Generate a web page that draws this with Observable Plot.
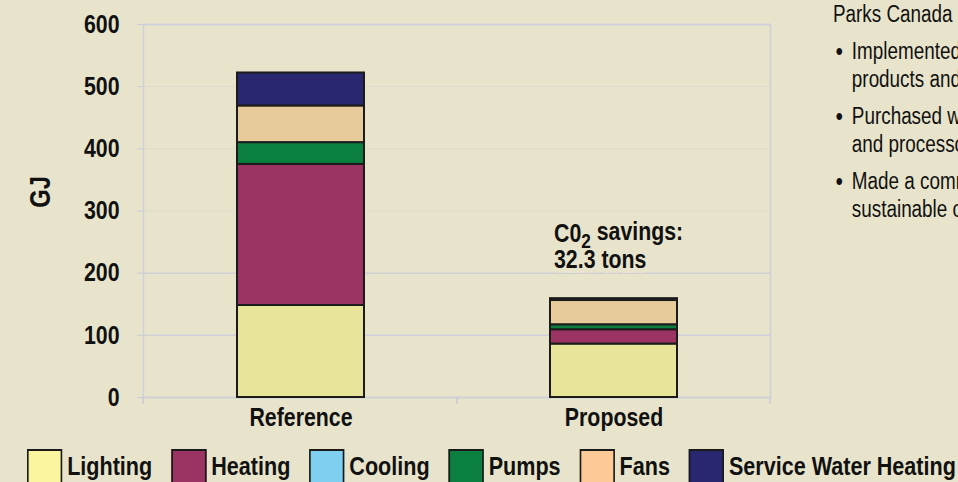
<!DOCTYPE html>
<html>
<head>
<meta charset="utf-8">
<script src="https://cdn.jsdelivr.net/npm/d3@7"></script>
<script src="https://cdn.jsdelivr.net/npm/@observablehq/plot@0.6"></script>
<style>
  html, body { margin: 0; padding: 0; }
  body {
    width: 958px; height: 482px; overflow: hidden; position: relative;
    background: #e8e4cb;
    font-family: "Liberation Sans", Arial, sans-serif;
    color: #111;
  }
  #chart { position: absolute; left: 0; top: 0; }
  #legend {
    position: absolute; left: 27px; top: 449px;
    display: flex; align-items: flex-start; white-space: nowrap;
    font-weight: bold; font-size: 26.3px;
    transform: scaleX(0.82); transform-origin: 0 0;
  }
  .item { display: flex; align-items: flex-start; margin-right: 23px; }
  .sw { width: 39px; height: 38px; border: 2px solid #1a1a1a; margin-right: 6px; box-sizing: content-box; }
  .lab { line-height: 30px; margin-top: 2px; }
  #notes {
    position: absolute; left: 833px; top: 0px; white-space: nowrap;
    font-size: 23px; line-height: 28px;
    transform: scaleX(0.82); transform-origin: 0 0;
  }
  #notes ul { list-style: none; margin: 0; padding: 0; }
  #notes li { position: relative; padding-left: 23px; margin-top: 9px; }
  #notes li::before { content: "\2022"; position: absolute; left: 3px; top: 0; font-size: 26px; }
</style>
</head>
<body>
<div id="chart"></div>
<div id="legend"></div>
<div id="notes"></div>
<script>
const scenarios = ["Reference", "Proposed"];
const endUses = ["Lighting", "Heating", "Cooling", "Pumps", "Fans", "Service Water Heating"];
const referenceValues = [148, 227, 0, 35, 59, 53];
const proposedValues = [86, 23, 0, 8, 39, 3];
const barColors = ["#e8e59b", "#9b3363", "#7fd0f0", "#0b7f40", "#e8cb9b", "#28276f"];
const legendColors = ["#fbf59f", "#9b3363", "#7fd0f0", "#0b7f40", "#fdc997", "#28276f"];
const yTicks = [0, 100, 200, 300, 400, 500, 600];
const yLabel = "GJ";
const annotationLines = ["C0 savings:", "32.3 tons"];
const noteTitle = "Parks Canada also:";
const noteBullets = [
  ["Implemented green procurement of", "products and services"],
  ["Purchased wood from certified forests", "and processors"],
  ["Made a commitment to", "sustainable operations"]
];

const rows = [];
endUses.forEach((u, i) => {
  rows.push({scenario: "Reference", use: u, value: referenceValues[i]});
  rows.push({scenario: "Proposed", use: u, value: proposedValues[i]});
});
const proposedTotal = d3.sum(proposedValues);

const bg = "#e8e4cb";
const font = '"Liberation Sans", Arial, sans-serif';
const squeeze = 0.82;

const annotOpts = {
  x: () => "Proposed", y: () => proposedTotal,
  text: d => d, textAnchor: "start", lineAnchor: "bottom",
  dx: -60, dy: -29, lineHeight: 1.08,
  fontSize: 26, fontWeight: "bold"
};

const plot = Plot.plot({
  width: 958,
  height: 440,
  marginLeft: 143,
  marginRight: 188,
  marginTop: 24,
  marginBottom: 43,
  style: {background: "transparent", fontFamily: font, fontSize: "26px", fontWeight: "bold", color: "#111"},
  x: {domain: scenarios, paddingInner: 0.595, paddingOuter: 0.2975, label: null},
  y: {domain: [0, 600], label: null},
  color: {domain: endUses, range: barColors},
  marks: [
    Plot.ruleY([300, 400, 500], {stroke: "#dcdacb", strokeWidth: 1}),
    Plot.ruleY([0, 100, 200, 600], {stroke: "#cfcfd5", strokeWidth: 1.5}),
    Plot.frame({stroke: "#cfcfd8", strokeWidth: 1.5}),
    Plot.axisY({ticks: yTicks, tickSize: 6, tickPadding: 18, stroke: "#c8cad8", fontSize: 26, fontWeight: "bold", fill: "#111"}),
    Plot.axisX({tickSize: 0, tickPadding: 10, fontSize: 26, fontWeight: "bold", fill: "#111"}),
    Plot.barY(rows, {x: "scenario", y: "value", fill: "use", order: endUses, stroke: "#1b1b1b", strokeWidth: 2}),
    Plot.text([annotationLines.join("\n")], {...annotOpts, fill: bg, stroke: bg, strokeWidth: 10, className: "annot"}),
    Plot.text([annotationLines.join("\n")], {...annotOpts, fill: "#111", className: "annot"})
  ]
});

const xs = plot.scale("x"), ys = plot.scale("y");
const svg = d3.select(plot);
const y0 = ys.apply(0);
const [xl, xr] = xs.range;
const mid = (xs.apply("Reference") + xs.bandwidth + xs.apply("Proposed")) / 2;
[xl, mid, xr].forEach(x => {
  svg.append("line").attr("x1", x).attr("x2", x).attr("y1", y0).attr("y2", y0 + 7)
    .attr("stroke", "#c8cad8").attr("stroke-width", 1.5);
});

// subscript 2 in CO2 annotation
svg.selectAll(".annot tspan").each(function() {
  if (this.textContent === annotationLines[0]) {
    const t = d3.select(this);
    t.text(null);
    t.append("tspan").text("C0");
    t.append("tspan").attr("dy", "0.3em").attr("font-size", 21).text("2");
    t.append("tspan").attr("dy", "-0.3em").text(" savings:");
  }
});

// GJ label
svg.append("text").text(yLabel)
  .attr("transform", `translate(50,${ys.apply(330)}) rotate(-90)`)
  .attr("text-anchor", "middle").attr("font-size", 29).attr("font-weight", "bold").attr("fill", "#111");

// condense all svg text horizontally around its anchor
svg.selectAll("text").each(function() {
  const t = this.getAttribute("transform") || "";
  const x = +this.getAttribute("x") || 0, y = +this.getAttribute("y") || 0;
  if (x || y) {
    this.setAttribute("transform", `${t} translate(${x},${y}) scale(${squeeze},1) translate(${-x},${-y})`);
  } else {
    this.setAttribute("transform", `${t} scale(${squeeze},1)`);
  }
});

document.getElementById("chart").appendChild(plot);

// Legend
const legend = d3.select("#legend");
endUses.forEach((u, i) => {
  const it = legend.append("div").attr("class", "item");
  it.append("div").attr("class", "sw").style("background", legendColors[i]);
  it.append("div").attr("class", "lab").text(u);
});

// Notes
const notes = d3.select("#notes");
notes.append("div").text(noteTitle);
const ul = notes.append("ul");
noteBullets.forEach(b => {
  const li = ul.append("li");
  b.forEach(l => li.append("div").text(l));
});
</script>
</body>
</html>
